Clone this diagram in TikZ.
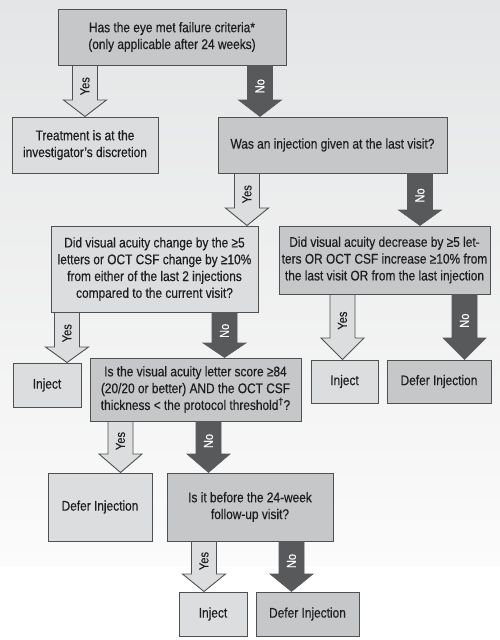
\documentclass[tikz,border=0pt]{standalone}
\usepackage{fontspec}
\setmainfont{Liberation Sans}[FakeStretch=0.85,FakeBold=0.4]
\usetikzlibrary{calc}
\definecolor{bgtop}{HTML}{E4E5E6}
\definecolor{bgbot}{HTML}{FBFBFB}
\definecolor{boxlight}{HTML}{DCDDDE}
\definecolor{boxmid}{HTML}{C6C7C8}
\definecolor{edge}{HTML}{505050}
\definecolor{darkarrow}{HTML}{58595B}
\definecolor{txt}{HTML}{1E1E1E}
\tikzset{
  box/.style={draw=edge, line width=1pt, align=center, inner sep=2pt, text=txt,
    font=\fontsize{14}{16.8}\selectfont},
  lightbox/.style={box, fill=boxlight},
  midbox/.style={box, fill=boxmid},
  yesarrow/.style={fill=boxlight, draw=edge, line width=0.9pt, line join=miter},
  noarrow/.style={fill=darkarrow, draw=darkarrow, line width=0.6pt},
  yeslabel/.style={rotate=90, text=txt, font=\fontsize{13}{14}\selectfont, inner sep=0pt},
  nolabel/.style={rotate=90, text=white, font=\fontsize{13}{14}\selectfont, inner sep=0pt},
}
% #1 arrow style, #2 label style, #3 label, #4 from node, #5 to node, #6 centre x, #7 head base y
\newcommand\blockarrow[7]{%
  \path let \p1=(#4.south), \p2=(#5.north) in
    [#1] (#6-12.5,\y1) -- (#6+12.5,\y1) -- (#6+12.5,-#7) -- (#6+21.5,-#7)
      -- (#6,\y2) -- (#6-21.5,-#7) -- (#6-12.5,-#7) -- cycle
    node[#2] at ($(#6,\y1)!0.6!(#6,-#7)$) {#3};
}
\begin{document}
\begin{tikzpicture}[x=1pt,y=1pt]
\useasboundingbox (0,0) rectangle (500,-640);
\fill[white] (0,0) rectangle (500,-640);
\shade[top color=bgtop, bottom color=bgbot] (0,0) rectangle (500,-565);

\node[midbox, minimum width=228, minimum height=56] (q1) at (172,-37)
  {Has the eye met failure criteria*\\(only applicable after 24 weeks)};
\node[lightbox, minimum width=146, minimum height=56] (treat) at (85,-145)
  {Treatment is at the\\investigator’s discretion};
\node[midbox, minimum width=229, minimum height=56] (q2) at (332.5,-145)
  {Was an injection given at the last visit?};
\node[lightbox, minimum width=207, minimum height=86] (q3) at (154.5,-269)
  {Did visual acuity change by the ≥5\\letters or OCT CSF change by ≥10\%\\from either of the last 2 injections\\compared to the current visit?};
\node[midbox, minimum width=211, minimum height=68] (q4) at (384.5,-260)
  {Did visual acuity decrease by ≥5 let-\\ters OR OCT CSF increase ≥10\% from\\the last visit OR from the last injection};
\node[lightbox, minimum width=68, minimum height=44] (inj1) at (47,-385) {Inject};
\node[midbox, minimum width=211, minimum height=63] (q5) at (195.5,-389.5)
  {Is the visual acuity letter score ≥84\\(20/20 or better) AND the OCT CSF\\thickness < the protocol threshold\textsuperscript{†}?};
\node[lightbox, minimum width=67, minimum height=43] (inj2) at (344.5,-381.5) {Inject};
\node[midbox, minimum width=104, minimum height=43] (def2) at (439,-381.5) {Defer Injection};
\node[lightbox, minimum width=104, minimum height=68] (def3) at (100,-507) {Defer Injection};
\node[midbox, minimum width=166, minimum height=68] (q6) at (250,-507)
  {Is it before the 24-week\\follow-up visit?};
\node[lightbox, minimum width=68, minimum height=44] (inj3) at (213,-614) {Inject};
\node[midbox, minimum width=103, minimum height=44] (def4) at (307.5,-614) {Defer Injection};

\blockarrow{yesarrow}{yeslabel}{Yes}{q1}{treat}{85}{100}
\blockarrow{noarrow}{nolabel}{No}{q1}{q2}{260}{100}
\blockarrow{yesarrow}{yeslabel}{Yes}{q2}{q3}{247}{208}
\blockarrow{noarrow}{nolabel}{No}{q2}{q4}{420}{210}
\blockarrow{yesarrow}{yeslabel}{Yes}{q3}{inj1}{67}{347}
\blockarrow{noarrow}{nolabel}{No}{q3}{q5}{224.5}{343}
\blockarrow{yesarrow}{yeslabel}{Yes}{q4}{inj2}{342.5}{338}
\blockarrow{noarrow}{nolabel}{No}{q4}{def2}{464.5}{338}
\blockarrow{yesarrow}{yeslabel}{Yes}{q5}{def3}{120.5}{454}
\blockarrow{noarrow}{nolabel}{No}{q5}{q6}{208.5}{454}
\blockarrow{yesarrow}{yeslabel}{Yes}{q6}{inj3}{204}{574}
\blockarrow{noarrow}{nolabel}{No}{q6}{def4}{291.5}{574}
\end{tikzpicture}
\end{document}
